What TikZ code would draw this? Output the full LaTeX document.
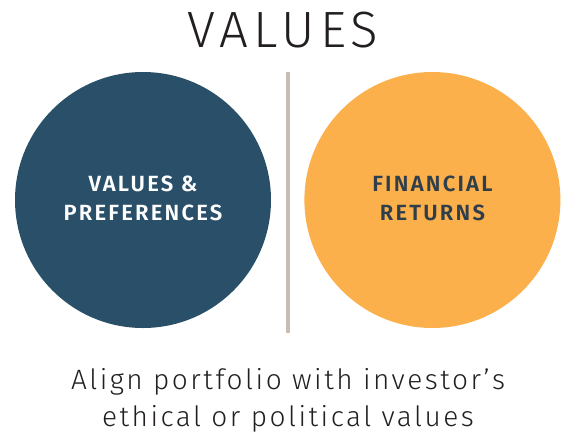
\documentclass[tikz,border=0pt]{standalone}
\usepackage{fontspec}
\setmainfont{Fira Sans Light}
\newfontfamily\titlefont[LetterSpace=10]{Fira Sans Light}
\newfontfamily\labelfont[LetterSpace=10]{Fira Sans SemiBold}
\newfontfamily\notefont[LetterSpace=9]{Fira Sans Light}
\usetikzlibrary{positioning}
\definecolor{navy}{HTML}{2A5069}
\definecolor{gold}{HTML}{FBB04B}
\definecolor{slate}{HTML}{2F3E4B}
\definecolor{sand}{HTML}{C9BDB1}
\definecolor{ink}{HTML}{231F20}
\begin{document}
\begin{tikzpicture}[x=1pt, y=1pt, node distance={33pt},
  circ/.style = {circle, minimum size=256pt, inner sep=0pt, align=center, font=\labelfont\fontsize{22}{28.5}\selectfont},
  divider/.style = {draw=sand, line width=4pt}]
\useasboundingbox (0,0) rectangle (562,-437);

\node[text=ink, font=\titlefont\fontsize{51}{51}\selectfont] (title) at (283,-30) {VALUES};

\node[circ, fill=navy, text=white] (pref) at (143,-200) {\raisebox{4pt}{VALUES \&}\\\raisebox{4pt}{PREFERENCES}};
\node[circ, fill=gold, text=slate] (fin) [right=of pref] {\raisebox{4pt}{FINANCIAL}\\\raisebox{4pt}{RETURNS}};

\coordinate (top) at (288,-72);
\coordinate (bot) at (288,-333);
\draw[divider] (top) -- (bot);

\node[text=ink, align=center, font=\notefont\fontsize{28}{37}\selectfont] (note) at (288,-400) {Align portfolio with investor’s\\ethical or political values};

\end{tikzpicture}
\end{document}
